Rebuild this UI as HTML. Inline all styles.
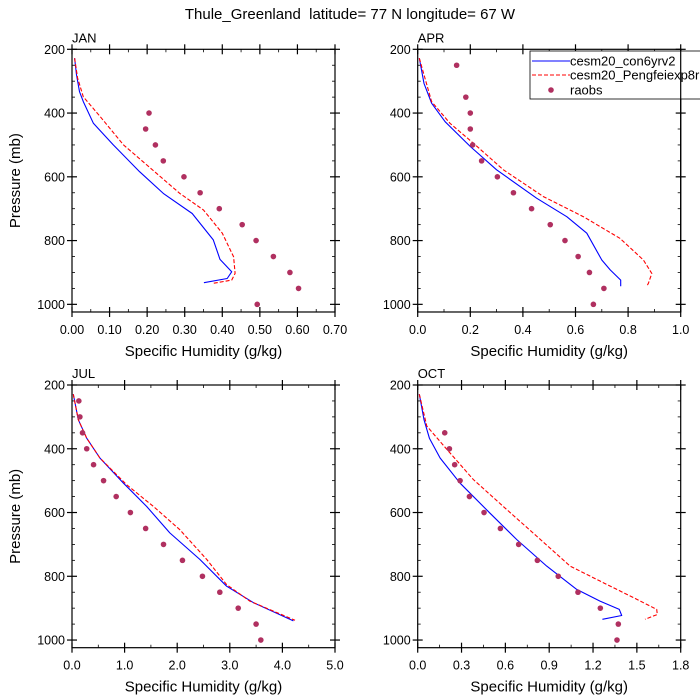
<!DOCTYPE html>
<html><head><meta charset="utf-8"><style>
body{margin:0;background:#fff;}
svg{display:block;font-family:"Liberation Sans",sans-serif;}
</style></head><body>
<svg id="chart" width="700" height="700" viewBox="0 0 700 700"></svg>
<script>
const NS='http://www.w3.org/2000/svg';
const months=['JAN','APR','JUL','OCT'];
const xMaxs=[0.70,1.0,5.0,1.8];
const xTickLabels=[['0.00','0.10','0.20','0.30','0.40','0.50','0.60','0.70'],['0.0','0.2','0.4','0.6','0.8','1.0'],['0.0','1.0','2.0','3.0','4.0','5.0'],['0.0','0.3','0.6','0.9','1.2','1.5','1.8']];
const xMinorStep=[0.05,0.1,0.5,0.15];
const yTickLabels=[200,400,600,800,1000];
// model pressure levels (mb) and humidity values (g/kg)
const janConP=[228,280,333,364,432,500,584,652,715,798,859,898,919,932];
const janConQ=[0.007,0.012,0.02,0.03,0.057,0.11,0.18,0.243,0.32,0.376,0.394,0.425,0.413,0.351];
const janExpP=[228,290,349,411,500,589,652,704,777,851,903,924,934];
const janExpQ=[0.007,0.015,0.03,0.075,0.137,0.225,0.287,0.35,0.4,0.43,0.434,0.425,0.376];
const aprConP=[228,307,369,427,505,578,667,725,777,861,892,924,943];
const aprConQ=[0.006,0.024,0.053,0.104,0.2,0.3,0.452,0.567,0.643,0.7,0.732,0.772,0.772];
const aprExpP=[228,364,432,495,578,662,725,793,861,903,934,945];
const aprExpQ=[0.006,0.053,0.123,0.212,0.326,0.478,0.63,0.769,0.858,0.89,0.877,0.87];
const julConP=[229,309,367,429,508,581,664,747,831,883,940];
const julConQ=[0.025,0.12,0.28,0.53,0.98,1.42,1.86,2.43,2.94,3.45,4.21];
const julExpP=[229,309,367,429,513,581,654,747,826,878,938];
const julExpQ=[0.025,0.12,0.28,0.53,1.04,1.55,2.05,2.56,2.94,3.38,4.24];
const octConP=[229,309,367,429,508,602,685,768,841,878,904,923,935];
const octConQ=[0.011,0.043,0.08,0.153,0.29,0.495,0.678,0.883,1.088,1.248,1.38,1.396,1.264];
const octExpP=[229,329,402,496,581,674,768,820,867,904,920,935];
const octExpQ=[0.011,0.062,0.2,0.38,0.586,0.814,1.043,1.27,1.476,1.636,1.64,1.556];
// raobs
const janObsP=[400,450,500,550,600,650,700,750,800,850,900,950,1000];
const janObsQ=[0.205,0.196,0.222,0.243,0.298,0.341,0.392,0.453,0.49,0.536,0.58,0.603,0.493];
const aprObsP=[250,350,400,450,500,550,600,650,700,750,800,850,900,950,1000];
const aprObsQ=[0.148,0.183,0.2,0.2,0.209,0.243,0.303,0.364,0.433,0.504,0.56,0.61,0.653,0.708,0.668];
const julObsP=[250,300,350,400,450,500,550,600,650,700,750,800,850,900,950,1000];
const julObsQ=[0.13,0.15,0.2,0.28,0.41,0.6,0.84,1.11,1.4,1.74,2.1,2.48,2.81,3.16,3.5,3.59];
const octObsP=[350,400,450,500,550,600,650,700,750,800,850,900,950,1000];
const octObsQ=[0.185,0.217,0.253,0.29,0.354,0.454,0.566,0.691,0.819,0.962,1.097,1.25,1.373,1.364];

const conP=[janConP,aprConP,julConP,octConP],conQ=[janConQ,aprConQ,julConQ,octConQ];
const expP=[janExpP,aprExpP,julExpP,octExpP],expQ=[janExpQ,aprExpQ,julExpQ,octExpQ];
const obsP=[janObsP,aprObsP,julObsP,octObsP],obsQ=[janObsQ,aprObsQ,julObsQ,octObsQ];

const svg=document.getElementById('chart');
function mk(tag,attrs,parent){const e=document.createElementNS(NS,tag);for(const k in attrs)e.setAttribute(k,attrs[k]);(parent||svg).appendChild(e);return e;}

const t=mk('text',{x:350,y:19,'text-anchor':'middle','font-size':15,fill:'#000',style:'white-space:pre'});


t.textContent='Thule_Greenland  latitude= 77 N longitude= 67 W';

const panels=[{x0:72,y0:49.3},{x0:417.7,y0:49.3},{x0:72,y0:385},{x0:417.7,y0:385}];
const W=263,YPX=0.3188,PMAX=1024;
panels.forEach((pn,i)=>{
  const g=mk('g',{});
  
  
  const xs=v=>pn.x0+v/xMaxs[i]*W;
  const ys=p=>pn.y0+(p-200)*YPX;
  const yb=ys(PMAX);
  const fr=mk('rect',{x:pn.x0,y:pn.y0,width:W,height:yb-pn.y0,fill:'none',stroke:'#000','stroke-width':1.2},g);
  
  
  for(let p=200;p<=1000;p+=50){
    const major=p%200===0, y=ys(p);
    const L=major?5:3;
    mk('line',{x1:pn.x0-(major?5:0),x2:pn.x0+L,y1:y,y2:y,stroke:'#000','stroke-width':major?1.2:0.8},g);
    mk('line',{x1:pn.x0+W-L,x2:pn.x0+W+(major?5:0),y1:y,y2:y,stroke:'#000','stroke-width':major?1.2:0.8},g);
  }
  yTickLabels.forEach(p=>{
    const tl=mk('text',{x:pn.x0-7,y:ys(p)+4.5,'text-anchor':'end','font-size':12.5},g);
    
    
    tl.textContent=p;
  });
  const nMin=Math.round(xMaxs[i]/xMinorStep[i]);
  for(let k=0;k<=nMin;k++){
    const major=k%2===0,x=xs(k*xMinorStep[i]),L=major?5:3;
    mk('line',{x1:x,x2:x,y1:yb+(major?5:0),y2:yb-L,stroke:'#000','stroke-width':major?1.2:0.8},g);
    mk('line',{x1:x,x2:x,y1:pn.y0-(major?5:0),y2:pn.y0+L,stroke:'#000','stroke-width':major?1.2:0.8},g);
  }
  xTickLabels[i].forEach((s,k)=>{
    const tl=mk('text',{x:xs(xMaxs[i]*k/(xTickLabels[i].length-1)),y:yb+22,'text-anchor':'middle','font-size':12.5},g);
    
    
    tl.textContent=s;
  });
  const xt=mk('text',{x:pn.x0+W/2,y:yb+44,'text-anchor':'middle','font-size':15},g);
  
  
  xt.textContent='Specific Humidity (g/kg)';
  if(i%2===0){
    const cy=(pn.y0+yb)/2;
    const yt=mk('text',{x:20,y:cy,'text-anchor':'middle','font-size':15,transform:'rotate(-90 20 '+cy+')'},g);
    
    
    yt.textContent='Pressure (mb)';
  }
  const ml=mk('text',{x:pn.x0,y:pn.y0-7,'font-size':13},g);
  
  
  ml.textContent=months[i];
  const pts=(P,Q)=>P.map((p,k)=>xs(Q[k]).toFixed(1)+','+ys(p).toFixed(1)).join(' ');
  const l1=mk('polyline',{points:pts(conP[i],conQ[i]),fill:'none',stroke:'#0000ff','stroke-width':1.1,'stroke-linejoin':'round'},g);
  
  
  const l2=mk('polyline',{points:pts(expP[i],expQ[i]),fill:'none',stroke:'#ff0000','stroke-width':1.1,'stroke-dasharray':'4,2'},g);
  
  
  obsP[i].forEach((p,k)=>{
    const c=mk('circle',{cx:xs(obsQ[i][k]),cy:ys(p),r:2.8,fill:'#b03060'},g);
    
    
  });
});
const lg=mk('g',{});


mk('rect',{x:530,y:51,width:200,height:48,fill:'#fff',stroke:'#000','stroke-width':0.8},lg);
mk('line',{x1:532,x2:570,y1:61,y2:61,stroke:'#0000ff','stroke-width':1.1},lg);
mk('line',{x1:532,x2:570,y1:75,y2:75,stroke:'#ff0000','stroke-width':1.1,'stroke-dasharray':'4,2'},lg);
mk('circle',{cx:551,cy:90,r:2.8,fill:'#b03060'},lg);
[['cesm20_con6yrv2',65.5],['cesm20_Pengfeiexp8r',79.5],['raobs',94.5]].forEach(([s,y])=>{
  const e=mk('text',{x:570,y:y,'font-size':13},lg);
  
  
  e.textContent=s;
});
mk('line',{x1:680.7,x2:680.7,y1:49.3,y2:49.3+824*0.3188,stroke:'#000','stroke-width':1.2});
</script>
</body></html>
